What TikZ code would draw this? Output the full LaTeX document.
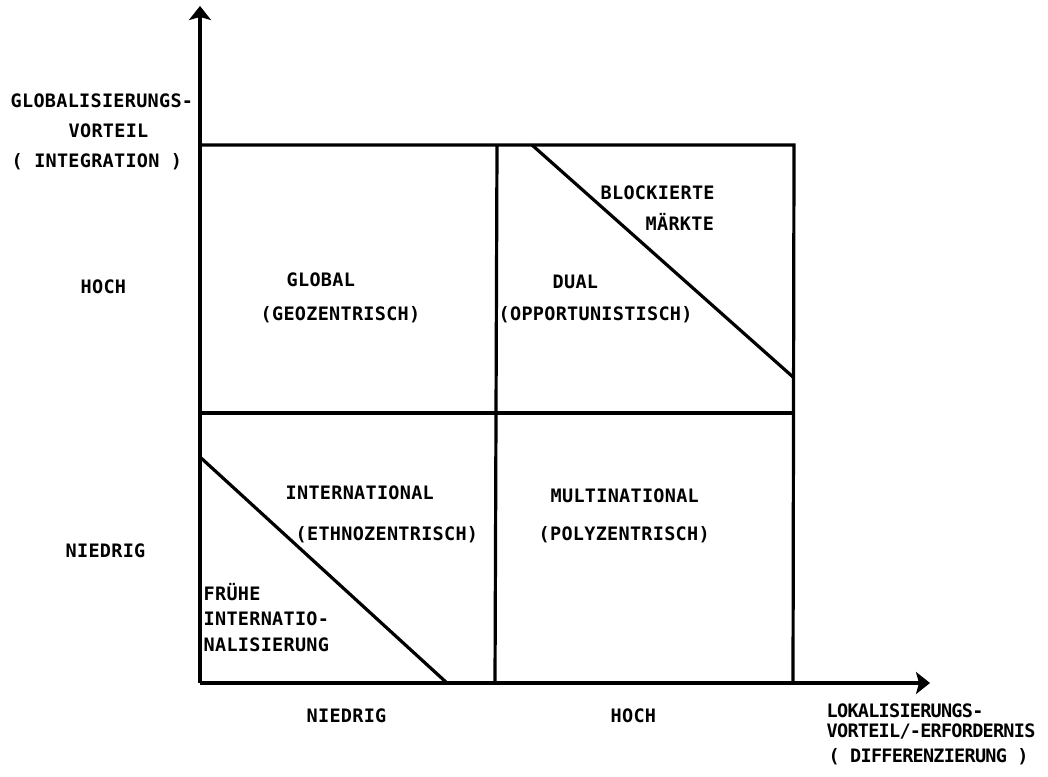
\documentclass[tikz,border=0pt]{standalone}
\usepackage{fontspec}
\usetikzlibrary{arrows.meta}
% stencil-like monospaced lettering
\newfontfamily\lblfont{DejaVu Sans Mono}[LetterSpace=1.5]
\newfontfamily\axfont{DejaVu Sans Mono}[LetterSpace=-4]
\begin{document}
\begin{tikzpicture}[x=1pt,y=-1pt,
  lbl/.style={font=\lblfont\bfseries\fontsize{18.5}{20}\selectfont, inner sep=0pt, anchor=base west},
  axlbl/.style={font=\axfont\bfseries\fontsize{18.5}{20}\selectfont, inner sep=0pt, anchor=base west},
  gridline/.style={line width=3.2pt, line join=miter},
  axisline/.style={line width=3.4pt, -{Stealth[length=14pt,width=22pt,inset=3pt]}}]
\fill[white] (0,0) rectangle (1048,776);
\useasboundingbox (0,0) rectangle (1048,776);

% axes
\coordinate (O)  at (200,683);
\coordinate (Yt) at (200,6);
\coordinate (Xt) at (930,683);
% grid corners
\coordinate (TL) at (200,145);
\coordinate (TM) at (497,145);
\coordinate (TR) at (794,145);
\coordinate (ML) at (200,413);
\coordinate (MR) at (794,413);
\coordinate (BM) at (495,683);
\coordinate (BR) at (793,683);
% diagonals
\coordinate (D1a) at (532,145);
\coordinate (D1b) at (793,377);
\coordinate (D2a) at (200,457);
\coordinate (D2b) at (447,683);

\draw[gridline] (TL) -- (TR) -- (BR);
\draw[gridline] (ML) -- (MR);
\draw[gridline] (TM) -- (BM);
\draw[gridline] (D1a) -- (D1b);
\draw[gridline] (D2a) -- (D2b);
\draw[axisline] (O) -- (Yt);
\draw[axisline] (O) -- (Xt);

% vertical axis title
\node[lbl] (ytitle1) at (10.5,107) {GLOBALISIERUNGS-};
\node[lbl] (ytitle2) at (68.5,137) {VORTEIL};
\node[lbl] (ytitle3) at (11.5,167) {( INTEGRATION )};
\node[lbl] (yhoch)   at (80.5,293) {HOCH};
\node[lbl] (yniedrig) at (65.5,557) {NIEDRIG};

% quadrants
\node[lbl] (glob1) at (286.5,286) {GLOBAL};
\node[lbl] (glob2) at (260.5,320) {(GEOZENTRISCH)};
\node[lbl] (dual1) at (552.5,288) {DUAL};
\node[lbl] (dual2) at (498.5,320) {(OPPORTUNISTISCH)};
\node[lbl] (block1) at (600.5,199) {BLOCKIERTE};
\node[lbl] (block2) at (645.5,230) {MÄRKTE};
\node[lbl] (intl1) at (285.5,499) {INTERNATIONAL};
\node[lbl] (intl2) at (295.5,540) {(ETHNOZENTRISCH)};
\node[lbl] (multi1) at (550.5,502) {MULTINATIONAL};
\node[lbl] (multi2) at (538.5,540) {(POLYZENTRISCH)};
\node[lbl] (frueh1) at (203.5,600) {FRÜHE};
\node[lbl] (frueh2) at (203.5,625) {INTERNATIO-};
\node[lbl] (frueh3) at (203.5,651) {NALISIERUNG};

% horizontal axis labels
\node[lbl] (xniedrig) at (306.5,722) {NIEDRIG};
\node[lbl] (xhoch)    at (610.5,722) {HOCH};
\node[axlbl] (xtitle1) at (826.5,717) {LOKALISIERUNGS-};
\node[axlbl] (xtitle2) at (826.5,737) {VORTEIL/-ERFORDERNIS};
\node[axlbl] (xtitle3) at (828.5,762) {( DIFFERENZIERUNG )};
\end{tikzpicture}
\end{document}
